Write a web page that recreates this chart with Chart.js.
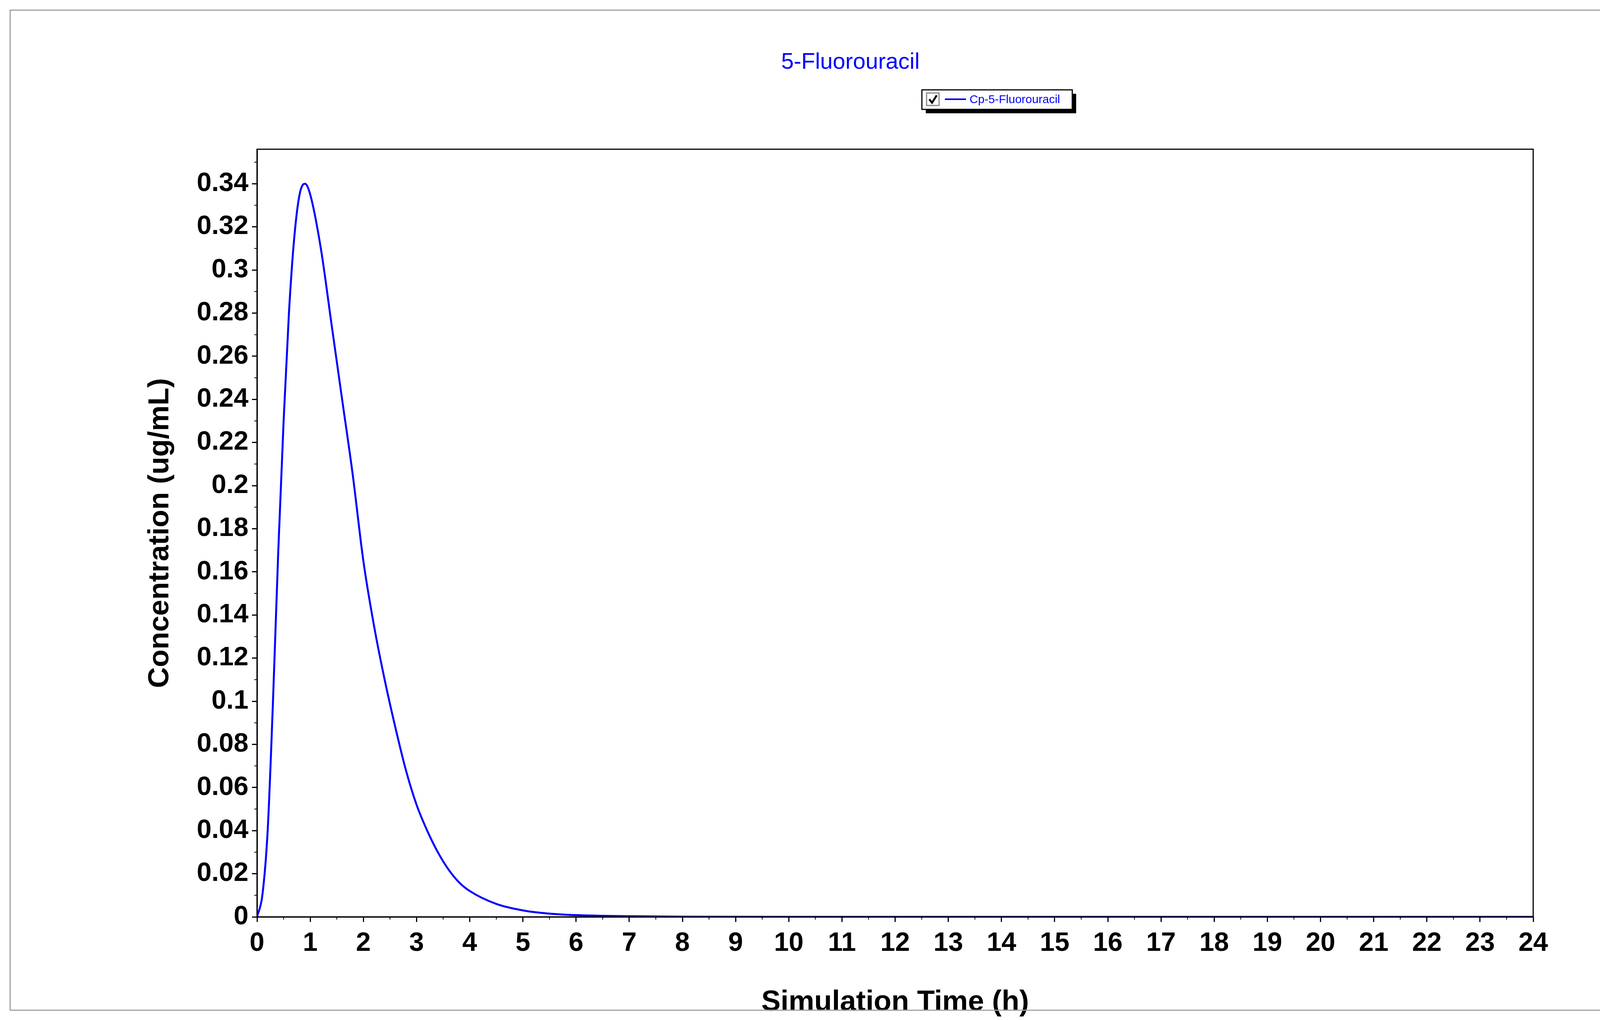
<!DOCTYPE html>
<html>
<head>
<meta charset="utf-8">
<script src="https://cdn.jsdelivr.net/npm/chart.js@4"></script>
<style>
  html, body { margin: 0; padding: 0; background: #fff; }
  #wrap { width: 4158px; height: 2611px; }
</style>
</head>
<body>
<div id="wrap"><canvas id="chart5fu"></canvas></div>
<script>
// Tiempos de simulación (h) y concentración
const times = [0, 0.1, 0.2, 0.3, 0.4, 0.5, 0.6, 0.7, 0.8, 0.9, 1.0, 1.2, 1.4, 1.6, 1.8, 2.0,
  2.2, 2.4, 2.6, 2.8, 3.0, 3.2, 3.4, 3.6, 3.8, 4.0, 4.5, 5, 5.5, 6, 7, 8, 10, 12, 16, 20, 24];
const concentration = [0, 0.01, 0.04, 0.1, 0.17, 0.23, 0.28, 0.315, 0.335, 0.34, 0.335, 0.31,
  0.275, 0.24, 0.205, 0.165, 0.135, 0.11, 0.088, 0.068, 0.052, 0.04, 0.03, 0.022, 0.016, 0.012,
  0.006, 0.003, 0.0015, 0.0008, 0.0003, 0.0001, 0, 0, 0, 0, 0];
const seriesName = "Cp-5-Fluorouracil";
const chartTitle = "5-Fluorouracil";
const yMax = 0.356;

const blue = "#0000ff";

// Marco exterior, caja del área, ticks menores, título y leyenda
const decor = {
  id: "decor",
  afterDraw(chart) {
    const ctx = chart.ctx;
    const a = chart.chartArea;
    const x = chart.scales.x, y = chart.scales.y;
    ctx.save();
    ctx.strokeStyle = "#a0a0a0";
    ctx.lineWidth = 3;
    ctx.strokeRect(26, 26, 4103, 2560);
    ctx.strokeStyle = "#000";
    ctx.lineWidth = 3;
    ctx.strokeRect(a.left, a.top, a.right - a.left, a.bottom - a.top);
    // ticks menores
    ctx.lineWidth = 2;
    ctx.beginPath();
    for (let v = 0.5; v < 24; v += 1) {
      const px = x.getPixelForValue(v);
      ctx.moveTo(px, a.bottom); ctx.lineTo(px, a.bottom + 7);
    }
    for (let v = 0.01; v < yMax; v += 0.02) {
      const py = y.getPixelForValue(v);
      ctx.moveTo(a.left, py); ctx.lineTo(a.left - 7, py);
    }
    ctx.stroke();
    // título
    ctx.fillStyle = blue;
    ctx.font = "58px 'Liberation Sans', Arial";
    ctx.textAlign = "center";
    ctx.textBaseline = "middle";
    ctx.fillText(chartTitle, 2177, 160);
    // leyenda
    ctx.fillStyle = "#000";
    ctx.fillRect(2370, 240, 385, 50);
    ctx.fillStyle = "#fff";
    ctx.fillRect(2360, 230, 385, 50);
    ctx.strokeStyle = "#000";
    ctx.lineWidth = 3;
    ctx.strokeRect(2360, 230, 385, 50);
    ctx.strokeStyle = "#888";
    ctx.strokeRect(2372, 238, 32, 32);
    ctx.strokeStyle = "#000";
    ctx.lineWidth = 5;
    ctx.beginPath();
    ctx.moveTo(2379, 254); ctx.lineTo(2386, 263); ctx.lineTo(2398, 244);
    ctx.stroke();
    ctx.strokeStyle = blue;
    ctx.lineWidth = 4;
    ctx.beginPath();
    ctx.moveTo(2419, 254); ctx.lineTo(2473, 254);
    ctx.stroke();
    ctx.fillStyle = blue;
    ctx.font = "30px 'Liberation Sans', Arial";
    ctx.textAlign = "left";
    ctx.fillText(seriesName, 2482, 256);
    ctx.restore();
  }
};

const axisFont = { family: "'Liberation Sans', Arial", size: 68, weight: "bold" };
const titleFont = { family: "'Liberation Sans', Arial", size: 74, weight: "bold" };

new Chart(document.getElementById("chart5fu"), {
  type: "line",
  data: {
    datasets: [{
      label: seriesName,
      data: times.map((t, i) => ({ x: t, y: concentration[i] })),
      borderColor: blue,
      borderWidth: 5,
      pointRadius: 0,
      cubicInterpolationMode: "monotone",
      fill: false
    }]
  },
  options: {
    responsive: true,
    maintainAspectRatio: false,
    animation: false,
    layout: { padding: { left: 0, top: 382, right: 233, bottom: 0 } },
    plugins: { legend: { display: false }, title: { display: false }, tooltip: { enabled: false } },
    scales: {
      x: {
        type: "linear", min: 0, max: 24,
        ticks: { stepSize: 1, color: "#000", font: axisFont, padding: 14, maxRotation: 0, autoSkip: false },
        grid: { drawOnChartArea: false, drawTicks: true, tickLength: 13, color: "#000", lineWidth: 3 },
        border: { display: true, color: "#000", width: 3 },
        title: { display: true, text: "Simulation Time (h)", color: "#000", font: titleFont, padding: { top: 55, bottom: 0 } },
        afterFit(s) { s.height = 264; }
      },
      y: {
        type: "linear", min: 0, max: yMax,
        afterBuildTicks(s) { s.ticks = s.ticks.filter(t => t.value <= 0.3401); },
        ticks: {
          stepSize: 0.02, color: "#000", font: axisFont, padding: 9,
          callback: v => String(Number(v.toFixed(2)))
        },
        grid: { drawOnChartArea: false, drawTicks: true, tickLength: 13, color: "#000", lineWidth: 3 },
        border: { display: true, color: "#000", width: 3 },
        title: { display: true, text: "Concentration (ug/mL)", color: "#000", font: titleFont, padding: { top: 366, bottom: 0 } },
        afterFit(s) { s.width = 658; }
      }
    }
  },
  plugins: [decor]
});
</script>
</body>
</html>
